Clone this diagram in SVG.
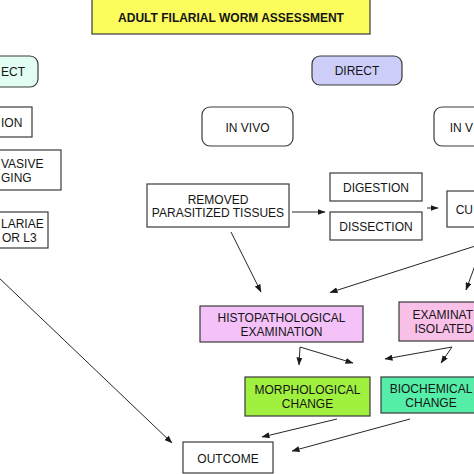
<svg xmlns="http://www.w3.org/2000/svg" width="474" height="474" viewBox="0 0 474 474">
<style>
text{font-family:"Liberation Sans",Arial,sans-serif;font-size:12px;fill:#151515;text-anchor:middle}
.b{stroke:#3a3a3a;stroke-width:1.2}
.w{fill:#fff}
.c line{stroke:#262626;stroke-width:1}
.s{text-anchor:start}
.e{text-anchor:end}
</style>
<defs>
<marker id="a" markerWidth="8" markerHeight="6" refX="7.5" refY="3" orient="auto" markerUnits="userSpaceOnUse">
<path d="M0,0 L8,3 L0,6 z" fill="#1a1a1a"/>
</marker>
</defs>
<rect width="474" height="474" fill="#fff"/>
<g id="title"><rect class="b" x="92" y="-1" width="278" height="35" fill="#fcfc5c"/><text x="231" y="21.5" font-weight="bold">ADULT FILARIAL WORM ASSESSMENT</text></g>
<g id="indirect"><rect class="b" x="-57" y="56" width="95" height="31" rx="8" fill="#e2fdf2"/><text class="s" x="1" y="75.5">ECT</text></g>
<g id="direct"><rect class="b" x="312" y="56" width="90" height="29" rx="8" fill="#cdcdfa"/><text x="357" y="75">DIRECT</text></g>
<g id="palpation"><rect class="b w" x="-60" y="107" width="92" height="30"/><text class="s" x="1" y="126.5">ION</text></g>
<g id="imaging"><rect class="b w" x="-65" y="150" width="126" height="40"/><text class="s" x="1" y="167.5">VASIVE</text><text class="s" x="1" y="181.5">GING</text></g>
<g id="filariae"><rect class="b w" x="-60" y="212" width="108" height="36"/><text class="s" x="1" y="227.5">LARIAE</text><text class="s" x="2" y="241.5">OR L3</text></g>
<g id="invivo"><rect class="b w" x="202" y="107" width="91" height="39" rx="8"/><text x="247.5" y="131.5">IN VIVO</text></g>
<g id="invitro"><rect class="b w" x="434" y="107" width="91" height="39" rx="8"/><text class="e" x="473" y="131.5">IN V</text></g>
<g id="removed"><rect class="b w" x="147" y="184" width="142" height="43"/><text x="218" y="203.5">REMOVED</text><text x="218" y="217">PARASITIZED TISSUES</text></g>
<g id="digestion"><rect class="b w" x="330" y="173" width="92" height="28"/><text x="376" y="191.5">DIGESTION</text></g>
<g id="dissection"><rect class="b w" x="330" y="212" width="92" height="28"/><text x="376" y="230.5">DISSECTION</text></g>
<g id="culture"><rect class="b w" x="447" y="191" width="80" height="36"/><text class="e" x="473" y="213.5">CU</text></g>
<g id="histo"><rect class="b" x="200" y="306" width="163" height="36" fill="#f4c2f8"/><text x="281.5" y="321.5">HISTOPATHOLOGICAL</text><text x="281.5" y="335.5">EXAMINATION</text></g>
<g id="exam"><rect class="b" x="399" y="302" width="140" height="39" fill="#f9c0e8"/><text class="e" x="473" y="318.5">EXAMINAT</text><text class="e" x="473" y="332.5">ISOLATED</text></g>
<g id="morph"><rect class="b" x="245" y="377" width="125" height="39" fill="#a0f040"/><text x="307.5" y="393.5">MORPHOLOGICAL</text><text x="307.5" y="407.5">CHANGE</text></g>
<g id="bio"><rect class="b" x="381" y="377" width="106" height="36" fill="#55eea8"/><text x="431" y="392.5">BIOCHEMICAL</text><text x="431" y="406.5">CHANGE</text></g>
<g id="outcome"><rect class="b w" x="183" y="442" width="90" height="31"/><text x="228" y="462.5">OUTCOME</text></g>
<g class="c" id="connectors">
<line x1="292" y1="212" x2="325" y2="212" marker-end="url(#a)"/>
<line x1="427" y1="208" x2="438" y2="208" marker-end="url(#a)"/>
<line x1="-3" y1="276" x2="172" y2="443" marker-end="url(#a)"/>
<line x1="231" y1="232" x2="261" y2="292" marker-end="url(#a)"/>
<line x1="480" y1="244.5" x2="330" y2="292.5" marker-end="url(#a)"/>
<line x1="477" y1="260" x2="466" y2="290" marker-end="url(#a)"/>
<line x1="300" y1="347" x2="299" y2="365" marker-end="url(#a)"/>
<line x1="300" y1="347" x2="353" y2="363" marker-end="url(#a)"/>
<line x1="452" y1="347" x2="385" y2="359" marker-end="url(#a)"/>
<line x1="452" y1="347" x2="441" y2="363" marker-end="url(#a)"/>
<line x1="337" y1="419" x2="262" y2="437" marker-end="url(#a)"/>
<line x1="410" y1="419" x2="292" y2="451" marker-end="url(#a)"/>
</g>
</svg>
